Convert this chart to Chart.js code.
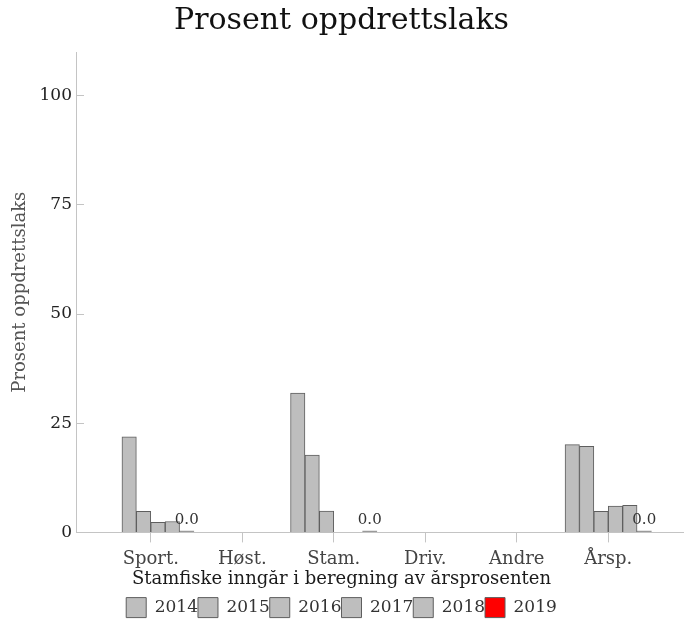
<!DOCTYPE html>
<html>
<head>
<meta charset="utf-8">
<script src="https://cdn.jsdelivr.net/npm/chart.js@4.4.0/dist/chart.umd.min.js"></script>
<style>
html,body{margin:0;padding:0;background:#ffffff;}
#c{display:block;}
</style>
</head>
<body>
<canvas id="c" width="690" height="621"></canvas>
<script>
// ---- data ----
const categories = ['Sport.', 'Høst.', 'Stam.', 'Driv.', 'Andre', 'Årsp.'];
const years = ['2014', '2015', '2016', '2017', '2018', '2019'];
const v2014 = [null, null, 31.9, null, null, 20.1];
const v2015 = [21.9, null, 17.7, null, null, 19.7];
const v2016 = [4.8, null, 4.9, null, null, 4.8];
const v2017 = [2.3, null, null, null, null, 6.0];
const v2018 = [2.5, null, null, null, null, 6.2];
const v2019 = [0.0, null, 0.0, null, null, 0.0];
const yTicks = [0, 25, 50, 75, 100];
const yMax = 110;
const titleText = 'Prosent oppdrettslaks';
const yTitleText = 'Prosent oppdrettslaks';
const legendTitleText = 'Stamfiske inngår i beregning av årsprosenten';

const seriesValues = [v2014, v2015, v2016, v2017, v2018, v2019];
const FONT = "'DejaVu Serif', serif";
const grayFill = '#bebebe';
const highlightFill = '#ff0000';
const grayLine = '#5e5e5e';
const zeroLine = '#9a9a9a';
const axisColor = '#c4c4c4';
const lastIdx = years.length - 1;

// category scale with extra space between the axis ends and the outer categories
class PaddedCategoryScale extends Chart.CategoryScale {
  configure() {
    super.configure();
    const pad = 29;
    this._startPixel += pad;
    this._endPixel -= pad;
    this._length = this._endPixel - this._startPixel;
  }
}
PaddedCategoryScale.id = 'paddedCategory';
PaddedCategoryScale.defaults = Chart.CategoryScale.defaults;
Chart.register(PaddedCategoryScale);

const datasets = years.map((y, i) => {
  const fill = i === lastIdx ? highlightFill : grayFill;
  return {
    label: y,
    data: seriesValues[i],
    backgroundColor: (ctx) => (ctx.type === 'data' && ctx.raw === 0) ? zeroLine : fill,
    borderColor: (ctx) => (ctx.type === 'data' && ctx.raw === 0) ? zeroLine : grayLine,
    borderWidth: 1,
    barThickness: 14.4,
    minBarLength: 1.5
  };
});

const valueLabels = {
  id: 'valueLabels',
  afterDatasetsDraw(chart) {
    const ctx = chart.ctx;
    const idx = chart.data.datasets.length - 1;
    const meta = chart.getDatasetMeta(idx);
    const ys = chart.scales.y;
    ctx.save();
    ctx.font = "15px " + FONT;
    ctx.fillStyle = '#333333';
    ctx.textAlign = 'center';
    ctx.textBaseline = 'alphabetic';
    meta.data.forEach((el, j) => {
      const v = chart.data.datasets[idx].data[j];
      if (v === null || v === undefined) return;
      ctx.fillText(v.toFixed(1), el.x, ys.getPixelForValue(v) - 8);
    });
    ctx.restore();
  }
};

new Chart(document.getElementById('c'), {
  type: 'bar',
  data: { labels: categories, datasets: datasets },
  plugins: [valueLabels],
  options: {
    responsive: false,
    animation: false,
    devicePixelRatio: 1,
    layout: { padding: { left: 0, right: 7, top: 0, bottom: 0 } },
    plugins: {
      title: {
        display: true,
        text: titleText,
        color: '#111111',
        font: { family: FONT, size: 30, weight: 'normal' },
        padding: { top: 3, bottom: 13 }
      },
      legend: {
        display: true,
        position: 'bottom',
        maxHeight: 51,
        title: {
          display: true,
          text: legendTitleText,
          color: '#1a1a1a',
          font: { family: FONT, size: 18 },
          padding: { top: 0, bottom: 6 }
        },
        labels: {
          color: '#333333',
          font: { family: FONT, size: 17 },
          boxWidth: 20,
          boxHeight: 20,
          padding: 0,
          generateLabels(chart) {
            const items = Chart.defaults.plugins.legend.labels.generateLabels(chart);
            items.forEach((it, i) => {
              it.fillStyle = i === lastIdx ? highlightFill : grayFill;
              it.strokeStyle = grayLine;
              it.lineWidth = 1;
            });
            return items;
          }
        }
      },
      tooltip: { enabled: false }
    },
    scales: {
      x: {
        type: 'paddedCategory',
        offset: true,
        afterFit(scale) { scale.height -= 6; },
        grid: {
          display: true,
          offset: false,
          drawOnChartArea: false,
          drawTicks: true,
          tickLength: 10,
          color: axisColor
        },
        border: { display: true, color: axisColor, width: 1 },
        ticks: {
          color: '#444444',
          font: { family: FONT, size: 18 },
          padding: 6,
          maxRotation: 0,
          autoSkip: false
        }
      },
      y: {
        type: 'linear',
        min: 0,
        max: yMax,
        afterBuildTicks(scale) {
          scale.ticks = yTicks.map(v => ({ value: v }));
        },
        afterFit(scale) { scale.width = 76; },
        grid: {
          display: true,
          drawOnChartArea: false,
          drawTicks: true,
          tickLength: -8,
          color: axisColor
        },
        border: { display: true, color: axisColor, width: 1 },
        ticks: {
          color: '#222222',
          font: { family: FONT, size: 17 },
          padding: 12
        },
        title: {
          display: true,
          text: yTitleText,
          color: '#555555',
          font: { family: FONT, size: 18 },
          padding: { top: 10, bottom: 0 }
        }
      }
    }
  }
});
</script>
</body>
</html>
